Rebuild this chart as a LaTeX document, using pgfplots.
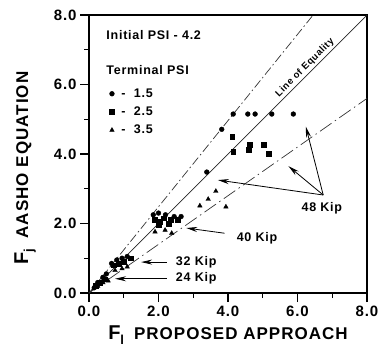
\documentclass[border=0pt]{standalone}
\usepackage{fontspec}
\setmainfont[LetterSpace=6]{Liberation Sans}
\usepackage{pgfplots}
\pgfplotsset{compat=1.18}
\usetikzlibrary{arrows.meta}
\begin{document}
\begin{tikzpicture}
\begin{axis}[
 scale only axis, width=278pt, height=278pt,
 xmin=0, xmax=8, ymin=0, ymax=8,
 xtick={0,2,4,6,8}, ytick={0,2,4,6,8},
 minor xtick={1,3,5,7}, minor ytick={1,3,5,7},
 xtick pos=left, ytick pos=left,
 tick align=outside,
 major tick length=9pt, minor tick length=5pt,
 axis line style={line width=1.6pt},
 every tick/.append style={black, line width=1.1pt},
 /pgf/number format/assume math mode=true,
 xticklabel style={/pgf/number format/fixed, /pgf/number format/zerofill, /pgf/number format/precision=1},
 yticklabel style={/pgf/number format/fixed, /pgf/number format/zerofill, /pgf/number format/precision=1},
 tick label style={font=\fontsize{15}{17}\selectfont\bfseries},
 clip=false,
 legend style={draw=none, fill=none, at={(axis cs:0.5,6.0)}, anchor=north west,
   font=\fontsize{12.5}{14}\selectfont\bfseries, row sep=4pt},
 legend cell align=left,
]
\coordinate (SW) at (rel axis cs:0,0);
\coordinate (NE) at (rel axis cs:1,1);
% reference lines
\addplot[black!80, line width=0.7pt, dash pattern=on 9pt off 3pt on 1.5pt off 3pt, forget plot] coordinates {(0,0) (6.45,8)};
\addplot[black!85, line width=0.7pt, forget plot] coordinates {(0,0) (8,8)};
\addplot[black!80, line width=0.7pt, dash pattern=on 14pt off 4pt on 1.5pt off 4pt, forget plot] coordinates {(0,0) (8,5.6)};
% Terminal PSI 1.5
\addplot[only marks, mark=*, mark size=2.4pt, black] coordinates {
 (0.15,0.15) (0.25,0.3) (0.4,0.45) (0.5,0.55)
 (0.65,0.85) (0.8,0.95) (0.95,1.0) (1.1,1.05)
 (1.85,2.25) (2.0,2.3) (2.2,2.25) (2.45,2.2) (2.65,2.2)
 (3.39,3.48) (3.82,4.71)
 (4.15,5.15) (4.57,5.15) (4.78,5.15) (5.26,5.15) (5.88,5.15)
};
\addlegendentry{\hspace{5pt}- \ 1.5}
% Terminal PSI 2.5
\addplot[only marks, mark=square*, mark size=2.4pt, black] coordinates {
 (0.2,0.2) (0.3,0.3) (0.45,0.4)
 (0.7,0.8) (0.85,0.85) (1.0,0.9) (1.2,1.0)
 (1.9,2.1) (2.05,2.05) (2.15,2.15) (2.35,2.1) (2.55,2.1) (2.0,1.95) (2.3,2.0)
 (4.12,4.5) (4.15,4.07) (4.63,4.26) (4.6,4.12) (5.02,4.26) (5.16,4.02)
};
\addlegendentry{\hspace{5pt}- \ 2.5}
% Terminal PSI 3.5
\addplot[only marks, mark=triangle*, mark size=2.6pt, black] coordinates {
 (0.25,0.2) (0.4,0.3) (0.55,0.35)
 (0.75,0.65) (0.95,0.7) (1.1,0.75)
 (1.9,1.76) (2.19,1.81) (2.38,1.72)
 (3.19,2.51) (3.43,2.7) (3.65,2.93) (3.94,2.48)
};
\addlegendentry{\hspace{5pt}- \ 3.5}
% texts
\node[anchor=west, font=\fontsize{12.5}{14}\selectfont\bfseries] at (axis cs:0.4,7.42) {Initial PSI - 4.2};
\node[anchor=west, font=\fontsize{12.5}{14}\selectfont\bfseries] at (axis cs:0.4,6.42) {Terminal PSI};
\node[rotate=45, anchor=south, font=\fontsize{9.5}{11}\selectfont\bfseries, inner sep=2pt] at (axis cs:6.35,6.35) {Line of Equality};
% annotations
\draw[line width=0.8pt, -{Stealth[length=11pt,width=5pt]}] (axis cs:6.74,2.82) -- (axis cs:6.24,4.79);
\draw[line width=0.8pt, -{Stealth[length=11pt,width=5pt]}] (axis cs:6.74,2.82) -- (axis cs:5.74,3.65);
\draw[line width=0.8pt, -{Stealth[length=11pt,width=5pt]}] (axis cs:6.74,2.82) -- (axis cs:3.71,3.25);
\node[font=\fontsize{12.5}{14}\selectfont\bfseries] at (axis cs:6.7,2.45) {48 Kip};
\draw[line width=0.8pt, -{Stealth[length=11pt,width=5pt]}] (axis cs:3.9,1.72) -- (axis cs:2.8,1.87);
\node[anchor=west, font=\fontsize{12.5}{14}\selectfont\bfseries] at (axis cs:4.15,1.58) {40 Kip};
\draw[line width=0.8pt, -{Stealth[length=11pt,width=5pt]}] (axis cs:2.24,0.89) -- (axis cs:1.5,0.89);
\node[anchor=west, font=\fontsize{12.5}{14}\selectfont\bfseries] at (axis cs:2.4,0.89) {32 Kip};
\draw[line width=0.8pt, -{Stealth[length=11pt,width=5pt]}] (axis cs:2.24,0.41) -- (axis cs:0.75,0.41);
\node[anchor=west, font=\fontsize{12.5}{14}\selectfont\bfseries] at (axis cs:2.4,0.41) {24 Kip};
% axis labels
\node[font=\fontsize{17}{19}\selectfont\bfseries] at ([yshift=-42pt]rel axis cs:0.5,0) {{\fontsize{20}{20}\selectfont F}\raisebox{-5pt}{\fontsize{13}{13}\selectfont l}\hspace{10pt}PROPOSED APPROACH};
\node[rotate=90, font=\fontsize{17}{19}\selectfont\bfseries] at ([xshift=-64pt]rel axis cs:0,0.45) {{\fontsize{20}{20}\selectfont F}\raisebox{-5pt}{\fontsize{13}{13}\selectfont j}\hspace{10pt}AASHO EQUATION};
\end{axis}
\pgfresetboundingbox
\path ([xshift=-89pt,yshift=-59pt]SW) rectangle ([xshift=15pt,yshift=15pt]NE);
\end{tikzpicture}
\end{document}
